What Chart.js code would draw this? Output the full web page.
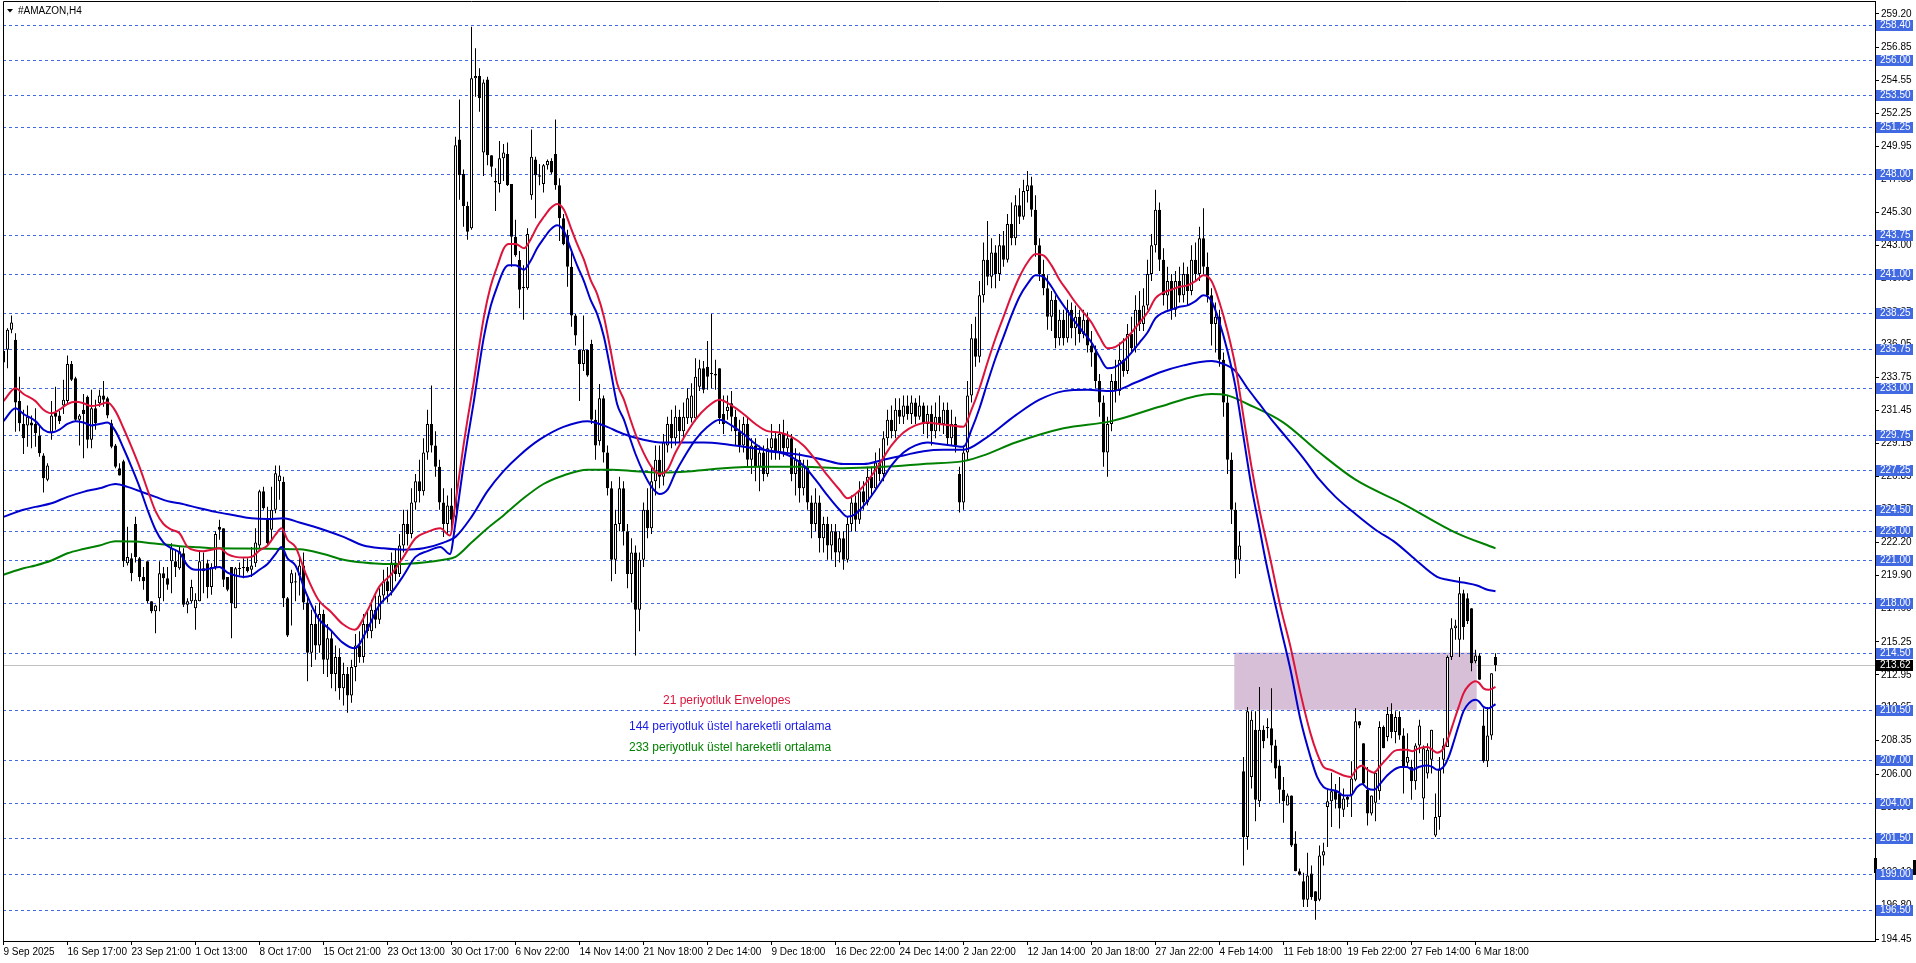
<!DOCTYPE html>
<html><head><meta charset="utf-8">
<script src="https://cdn.jsdelivr.net/npm/chart.js@4.4.1/dist/chart.umd.min.js"></script>
<style>html,body{margin:0;padding:0;background:#fff;overflow:hidden}canvas{display:block}</style>
</head><body>
<canvas id="c" width="1916" height="963"></canvas>
<script>
// ---------- DATA ----------
const chartTitle = '#AMAZON,H4';
// candles: [open, high, low, close], one per H4 bar
const candles = [
[234.8,236.4,234.5,235.6],[235.7,237.2,234.4,237.1],[237.1,238.1,236.85,237.6],[236.4,236.85,229.96,232.0],[232.1,233.8,230.0,230.55],
[230.5,231.5,228.4,229.5],[230.4,231.8,228.9,231.0],[230.6,231.1,228.8,230.4],[230.5,231.6,228.9,229.85],[229.7,230.4,228.2,228.45],
[228.3,228.45,225.7,226.7],[226.6,227.75,226.5,227.6],[229.9,232.1,229.4,231.1],[231.3,233.1,230.1,231.0],[231.1,231.4,230.5,230.7],
[231.8,233.6,231.2,232.2],[232.1,235.3,231.9,234.7],[234.7,234.9,233.5,233.6],[233.7,233.8,230.7,230.8],[230.8,231.2,229.0,231.1],
[231.5,232.6,228.1,231.2],[232.4,232.5,228.8,229.4],[229.4,232.9,228.8,231.6],[231.6,232.2,230.1,230.55],[231.95,232.9,231.7,232.5],
[232.5,233.5,231.7,232.2],[232.3,232.4,230.9,231.1],[230.55,230.8,228.8,228.9],[229.0,229.1,227.4,227.5],[227.4,227.75,226.9,226.9],
[227.9,228.0,220.5,220.9],[220.75,223.3,220.6,221.2],[221.1,221.45,219.5,220.05],[223.5,224.0,220.8,221.2],[221.1,221.2,219.5,219.8],
[219.8,220.5,218.9,219.5],[220.9,220.9,217.95,218.1],[218.1,218.1,217.25,217.4],[217.4,217.85,215.85,217.8],[218.3,220.9,217.4,220.05],
[220.05,220.5,218.1,219.7],[219.7,220.5,218.9,219.25],[220.9,222.15,218.65,221.8],[220.9,221.7,219.8,220.5],[220.4,221.9,220.3,221.6],
[221.45,221.8,217.7,217.85],[217.85,218.3,217.25,218.1],[218.1,219.6,217.95,219.1],[217.6,218.65,216.1,218.2],[218.1,221.6,218.1,220.9],
[220.4,221.5,218.65,220.2],[220.75,221.0,218.3,219.1],[219.1,220.75,218.55,220.5],[220.5,223.0,220.3,222.8],[223.3,223.8,222.4,223.1],
[223.2,223.2,219.1,219.6],[219.8,219.8,218.8,218.9],[220.5,220.5,215.5,217.95],[217.6,220.5,217.6,220.4],[220.4,220.8,219.9,220.35],
[220.4,221.1,219.7,220.5],[220.5,221.1,220.1,220.2],[220.3,221.9,219.8,220.6],[220.75,223.2,220.5,222.2],[222.0,225.9,221.8,225.8],
[225.8,226.1,224.5,224.6],[223.8,224.7,222.0,222.15],[223.1,226.1,222.4,224.5],[224.5,227.6,224.25,227.05],[226.5,227.6,225.2,226.9],
[226.45,226.8,217.7,218.3],[218.3,218.4,215.6,215.7],[219.35,220.3,216.4,220.05],[219.4,220.1,218.1,219.5],[219.9,221.2,218.5,220.6],
[220.6,221.5,217.5,218.0],[218.0,218.5,212.5,214.5],[214.5,217.5,213.5,216.5],[216.5,217.8,214.0,215.0],[215.0,218.0,214.5,217.2],
[217.2,217.5,213.0,214.0],[214.0,216.5,212.8,215.5],[215.5,216.0,212.0,213.0],[213.0,215.0,211.8,214.2],[214.2,214.8,211.2,212.0],
[212.0,213.8,210.8,213.0],[213.0,213.5,210.3,211.5],[211.5,214.0,211.0,213.5],[213.5,215.8,212.5,215.0],[215.0,216.0,213.8,214.2],
[214.2,217.2,213.8,216.5],[216.5,217.5,215.5,216.0],[216.0,218.2,215.5,217.5],[217.5,218.5,216.2,216.8],[216.8,219.0,216.5,218.5],
[218.5,220.3,218.0,219.5],[219.5,220.5,218.0,218.8],[218.8,221.5,218.5,220.8],[220.8,221.8,219.5,220.0],[220.0,222.8,219.8,222.0],
[222.0,224.5,221.5,223.5],[223.5,224.5,222.0,222.8],[222.8,226.0,222.5,225.0],[225.0,227.0,224.5,226.5],[226.5,228.0,225.0,225.8],
[225.8,229.5,225.5,228.5],[228.5,231.5,228.0,230.5],[230.5,233.2,228.5,229.0],[229.0,230.0,226.8,227.5],[227.5,228.0,224.5,225.0],
[225.0,226.0,222.6,223.5],[223.5,225.5,222.8,224.8],[224.8,226.0,223.0,223.8],[224.0,250.6,223.8,250.0],[250.4,253.2,246.2,247.9],
[248.0,248.3,244.3,245.75],[245.75,246.05,243.4,243.96],[244.2,258.3,244.1,254.7],[254.7,256.8,253.4,254.85],[254.85,255.4,252.35,253.3],
[249.5,254.6,247.85,254.4],[254.6,254.8,248.6,249.3],[249.3,249.3,247.8,248.5],[247.5,248.4,245.4,247.4],[247.3,250.3,246.7,249.1],
[249.1,250.1,247.5,249.5],[249.4,250.2,247.15,247.2],[247.3,247.3,241.5,243.6],[243.6,244.8,242.2,242.3],[241.97,242.6,238.6,239.9],
[240.1,241.6,237.8,240.0],[240.0,244.2,239.9,243.8],[246.5,251.1,246.2,249.2],[249.0,249.2,244.9,247.9],[247.9,248.7,247.2,247.8],
[247.3,248.7,246.7,248.6],[248.6,249.0,248.3,248.9],[248.9,249.1,248.0,248.1],[249.4,251.8,246.9,247.2],[247.2,247.7,243.3,244.9],
[244.9,245.2,243.0,243.07],[243.7,244.1,240.1,241.5],[241.5,242.6,237.3,238.1],[238.1,238.2,236.0,236.7],[235.7,235.7,232.1,234.7],
[234.7,238.1,234.2,235.7],[235.7,235.7,233.8,233.9],[236.1,236.4,230.5,230.8],[230.8,231.5,228.0,229.0],[229.3,233.3,229.0,232.3],
[232.3,232.5,227.8,228.5],[228.5,229.0,225.5,226.0],[226.0,226.5,219.5,221.0],[221.0,224.5,220.0,223.5],[223.5,226.8,223.0,226.0],
[226.0,226.5,222.0,223.0],[223.0,223.5,219.0,220.0],[220.0,222.5,218.0,221.5],[221.5,222.0,214.3,217.5],[217.5,221.5,216.0,221.0],
[221.0,225.0,220.5,224.5],[224.5,226.0,222.5,223.2],[223.2,227.5,222.8,226.5],[226.5,229.0,225.5,228.0],[228.0,229.0,226.0,226.8],
[226.8,229.8,226.2,229.2],[229.0,231.0,228.5,230.5],[230.5,231.5,228.8,229.5],[229.5,231.8,229.0,231.0],[231.0,231.5,229.2,230.0],
[230.0,232.0,229.5,231.0],[230.9,233.0,230.5,232.3],[230.9,233.35,230.6,232.5],[230.9,235.1,230.7,233.8],[233.1,235.0,232.8,234.4],
[234.4,234.9,232.65,232.9],[234.5,236.3,232.9,233.8],[234.0,238.2,233.0,234.05],[234.0,235.0,232.9,233.9],[234.4,234.4,230.5,230.9],
[231.2,232.5,229.8,230.5],[231.4,232.5,230.8,231.7],[231.95,232.8,230.0,231.0],[231.0,231.5,229.0,230.0],[230.0,230.8,228.5,229.0],
[229.0,231.0,228.5,230.5],[230.5,231.0,227.5,228.0],[228.0,229.5,227.0,229.0],[229.0,229.5,226.5,227.5],[227.5,229.0,225.8,228.5],
[228.5,229.0,226.5,227.0],[227.0,229.5,226.8,228.8],[228.8,230.5,228.0,229.5],[229.5,230.0,228.0,228.5],[228.5,230.5,228.0,229.8],
[229.8,230.8,228.2,228.8],[228.8,230.0,228.5,229.5],[229.5,229.8,226.5,227.0],[227.0,228.8,225.5,228.0],[228.0,228.5,225.0,226.0],
[226.0,228.0,225.5,227.5],[227.5,228.0,224.5,225.0],[225.0,225.5,222.5,223.5],[223.5,226.0,223.0,225.0],[225.0,225.5,221.5,222.5],
[222.5,224.0,221.5,223.5],[223.5,224.0,221.0,222.0],[222.0,223.5,221.0,223.0],[223.0,223.5,220.5,221.5],[221.5,223.0,220.8,222.5],
[222.5,223.0,220.3,221.0],[221.0,224.0,220.8,223.5],[223.5,225.5,223.0,225.0],[225.0,225.5,223.0,223.8],[223.8,226.5,223.5,225.8],
[225.8,226.5,224.5,225.0],[225.0,227.5,224.8,226.8],[226.8,227.5,225.5,226.0],[226.0,228.5,225.8,227.8],[227.8,228.8,226.5,227.0],
[227.0,230.0,226.5,229.5],[229.5,231.5,229.0,230.8],[230.8,231.8,229.5,230.0],[230.0,232.3,229.5,231.5],[231.5,232.3,230.5,231.0],
[231.0,232.5,230.5,231.8],[231.8,232.5,230.8,231.2],[231.2,232.5,230.5,232.0],[232.0,232.3,230.5,231.0],[231.0,232.5,230.8,231.8],
[231.8,232.0,229.8,230.5],[230.5,231.8,229.5,231.2],[231.2,231.8,229.0,230.0],[230.0,232.0,229.5,231.0],[231.0,232.5,230.0,230.5],
[230.5,232.0,229.8,231.5],[231.5,232.0,229.0,229.5],[229.5,231.5,229.0,230.5],[230.5,231.0,228.5,229.0],[227.0,227.5,224.3,225.0],
[225.0,229.0,224.5,228.5],[228.5,233.5,228.0,232.5],[232.5,237.5,232.0,236.5],[236.5,238.0,234.5,235.2],[235.2,240.5,234.8,239.5],
[239.5,243.2,239.0,242.0],[242.0,244.7,240.2,240.8],[240.8,243.5,240.0,242.5],[242.5,243.0,240.0,241.0],[241.0,243.8,240.5,243.0],
[243.0,244.0,241.5,242.0],[242.0,245.2,241.8,244.5],[244.5,246.0,243.0,243.5],[243.5,246.5,243.0,245.8],[245.8,247.0,244.5,245.0],
[245.0,247.6,244.8,246.8],[246.8,248.2,246.0,247.2],[247.2,247.8,245.0,245.5],[245.5,246.5,242.2,243.0],[243.0,243.5,240.5,241.0],
[241.0,242.0,239.5,240.0],[240.0,240.9,237.1,238.0],[238.0,239.8,237.0,239.2],[239.2,239.5,235.8,236.5],[236.5,238.5,236.0,237.8],
[237.8,238.5,236.0,236.5],[236.5,239.2,236.2,238.5],[238.5,239.0,236.5,237.2],[237.2,238.8,236.0,238.0],[238.0,238.5,236.2,236.8],
[236.8,238.5,236.5,237.8],[237.8,238.3,235.5,236.0],[236.0,237.0,234.5,235.5],[235.5,236.0,233.0,233.5],[233.5,234.0,231.0,232.0],
[232.0,232.5,227.5,228.5],[228.5,231.0,226.8,230.5],[230.5,234.0,230.0,233.5],[233.5,235.0,232.0,232.8],[232.8,236.2,232.5,235.0],
[235.0,236.5,233.8,234.2],[234.2,237.5,234.0,236.8],[236.8,238.0,235.5,235.8],[235.8,239.5,235.5,238.5],[238.5,239.8,237.0,237.5],
[237.5,240.0,237.0,238.8],[238.8,242.0,238.5,241.0],[241.0,243.8,240.5,243.0],[243.0,246.9,242.5,245.5],[245.5,246.0,241.2,242.0],
[242.0,242.8,238.8,239.5],[239.5,241.5,238.5,240.5],[240.5,241.0,237.8,238.5],[238.5,241.2,238.0,240.5],[240.5,241.5,239.0,239.5],
[239.5,241.8,239.0,241.0],[241.0,241.5,238.8,239.8],[239.8,243.0,239.5,242.0],[242.0,243.2,240.5,241.0],[241.0,244.3,240.5,243.5],
[243.5,245.6,241.0,241.5],[241.5,242.5,239.0,239.5],[239.5,240.0,236.0,237.5],[237.5,239.0,235.5,238.0],[238.0,238.5,234.5,235.0],
[235.0,235.5,231.0,232.0],[232.0,232.5,227.0,228.0],[228.0,228.5,223.5,224.5],[224.5,225.0,219.7,221.0],[221.0,223.0,220.0,222.0],
[206.2,207.2,199.6,201.6],[201.6,210.7,200.7,210.4],[205.8,210.4,205.0,209.8],[209.1,210.4,202.7,204.2],[204.1,212.1,203.7,209.1],
[209.1,209.4,207.8,208.3],[209.3,209.9,208.5,209.2],[209.2,212.0,206.8,208.0],[208.0,208.4,205.7,206.4],[206.6,207.0,203.95,204.9],
[204.9,205.8,202.6,204.1],[203.8,204.65,203.8,204.5],[204.5,204.5,200.9,201.0],[201.15,202.0,199.2,199.2],[199.2,199.4,198.9,198.95],
[198.5,199.1,196.7,197.2],[197.2,200.5,196.7,198.9],[199.05,199.6,197.2,197.4],[197.8,197.8,195.8,197.1],[197.2,201.0,197.1,200.3],
[200.3,201.2,199.6,200.6],[203.7,204.9,200.9,204.1],[204.1,206.1,202.3,204.8],[204.9,205.3,203.6,204.2],[204.65,205.8,202.2,203.6],
[203.5,205.0,203.0,204.3],[204.4,204.5,203.7,204.2],[204.5,206.9,203.0,205.7],[205.6,210.6,205.5,209.7],[209.7,209.7,209.2,209.4],
[208.15,208.15,205.2,205.35],[204.9,206.5,202.4,203.25],[203.25,204.5,203.1,204.5],[204.0,206.1,202.7,206.1],[204.8,209.7,204.2,209.3],
[209.3,209.4,207.8,207.8],[208.6,210.7,208.3,210.2],[210.2,210.95,208.5,208.95],[208.95,210.4,208.15,210.0],[210.0,210.4,208.4,208.7],
[208.7,209.2,204.65,206.5],[206.8,208.85,206.5,207.2],[206.5,207.0,204.2,205.5],[205.5,208.15,204.9,208.0],[208.0,209.8,207.45,209.4],
[204.3,208.0,202.8,207.8],[206.05,208.15,205.7,207.7],[207.0,209.1,206.05,209.1],[201.7,204.65,201.6,203.0],[203.0,207.2,202.1,206.3],
[207.0,208.5,206.05,208.0],[207.9,214.3,207.9,214.2],[214.2,216.9,213.98,216.2],[216.2,216.8,215.4,216.4],[215.4,219.8,214.2,218.65],
[218.65,218.9,215.4,216.3],[218.3,218.65,216.5,216.7],[217.6,217.6,213.2,213.75],[213.9,214.7,213.75,214.3],[214.3,214.45,212.6,212.6],
[209.4,210.6,206.8,206.9],[206.9,210.7,206.5,208.7],[208.7,213.05,208.4,213.05],[214.2,214.45,213.2,213.62]
];
const timeLabels = ['9 Sep 2025','16 Sep 17:00','23 Sep 21:00','1 Oct 13:00','8 Oct 17:00','15 Oct 21:00','23 Oct 13:00','30 Oct 17:00','6 Nov 22:00','14 Nov 14:00','21 Nov 18:00','2 Dec 14:00','9 Dec 18:00','16 Dec 22:00','24 Dec 14:00','2 Jan 22:00','12 Jan 14:00','20 Jan 18:00','27 Jan 22:00','4 Feb 14:00','11 Feb 18:00','19 Feb 22:00','27 Feb 14:00','6 Mar 18:00'];
const timeIdx = [0,16,32,48,64,80,96,112,128,144,160,176,192,208,224,240,256,272,288,304,320,336,352,368];
const priceTicks = [259.20,256.85,254.55,252.25,249.95,247.65,245.30,243.00,240.70,238.35,236.05,233.75,231.45,229.15,226.85,224.55,222.20,219.90,217.60,215.25,212.95,210.65,208.35,206.00,203.70,201.40,199.10,196.80,194.45];
const levels = [258.40,256.00,253.50,251.25,248.00,243.75,241.00,238.25,235.75,233.00,229.75,227.25,224.50,223.00,221.00,218.00,214.50,210.50,207.00,204.00,201.50,199.00,196.50];
const lastPrice = 213.62;
const markerPrices = [199.06, 200.15];
const zoneBars = [307.7, 368.3];
const zonePrices = [214.5, 210.5];
const envUpper = [[0,232.1],[3,233.0],[5,232.6],[8,232.1],[10,231.5],[12,231.25],[14,231.5],[16,231.9],[18,232.05],[20,231.95],[22,231.75],[24,231.85],[26,232.0],[28,231.4],[30,230.2],[32,228.9],[34,227.5],[36,225.9],[38,224.4],[40,223.5],[42,223.1],[44,222.85],[46,221.9],[48,221.65],[50,221.6],[52,221.7],[54,221.8],[56,221.4],[58,221.2],[60,221.15],[62,221.2],[64,221.65],[66,222.0],[68,222.75],[69.5,223.2],[71,222.4],[73,221.9],[75.6,220.0],[78.7,218.2],[81.7,217.4],[84.8,216.5],[87.8,216.1],[90.9,217.4],[93.9,219.1],[97,220.0],[100,221.2],[103,222.5],[106,222.95],[109.2,223.2],[111.6,222.7],[113,225.0],[114,227.0],[115,229.0],[116,230.8],[117.6,233.5],[118.4,235.0],[120.1,238.0],[121.75,240.1],[123.4,241.5],[125.1,242.8],[126.3,243.1],[128,243.1],[130.1,242.8],[131.75,243.4],[133.4,244.3],[135.1,245.0],[136.75,245.6],[138.4,245.9],[140.1,245.5],[141.75,244.3],[143.4,243.1],[145.1,242.0],[146.75,240.6],[148.4,239.6],[150.1,238.0],[151.75,235.7],[153.4,233.35],[155.1,232.2],[156.75,230.8],[158,229.8],[160,228.5],[162,227.5],[164,227.0],[166,227.3],[168,228.5],[170,229.5],[173,230.8],[176,231.7],[179,232.2],[182,231.8],[185,231.2],[188,230.5],[191,230.0],[194,229.9],[197,229.6],[200,229.0],[203,228.0],[206,226.9],[209,225.9],[211,225.3],[213,225.6],[216,226.5],[219,227.7],[222,229.0],[225,229.9],[228,230.4],[231,230.6],[234,230.5],[237,230.4],[240,230.3],[242,231.5],[244,233.0],[246,234.8],[248,236.5],[250,238.0],[252,239.5],[254,240.8],[256,241.8],[258,242.4],[260,242.3],[262,241.6],[264,240.6],[266,239.8],[268,239.0],[270,238.3],[272,237.6],[274,236.6],[276,235.8],[278,235.9],[280,236.3],[282,236.9],[284,237.6],[286,238.3],[288,239.3],[290,239.7],[292,239.9],[294,240.1],[296,240.2],[298,240.5],[300,240.9],[302,240.5],[304,239.0],[306,237.0],[308,234.5],[310,231.0],[312,227.5],[314,224.5],[316.75,221.0],[319.25,217.7],[321.75,214.9],[324.25,211.65],[326.75,208.85],[328.4,207.45],[330,206.5],[331.75,206.3],[333.4,206.1],[335,205.9],[336.75,205.8],[338.4,206.4],[339.7,206.6],[341,206.3],[342.6,206.1],[344.25,206.6],[345.9,207.1],[347.6,207.6],[349.25,207.7],[350.9,207.7],[352.2,207.6],[353.8,207.8],[356,207.9],[357.2,207.7],[358.4,207.5],[360,207.8],[361.3,208.6],[362.6,209.7],[363.8,210.7],[365,211.65],[366.3,212.2],[368,212.5],[368.8,212.4],[370,212.0],[371.3,211.9],[373,212.1]];
const envLower = [[0,230.7],[3,231.6],[5,231.2],[8,230.7],[10,230.1],[12,229.9],[14,230.1],[16,230.5],[18,230.7],[20,230.6],[22,230.4],[24,230.5],[26,230.6],[28,230.0],[30,228.8],[32,227.5],[34,226.1],[36,224.5],[38,223.1],[40,222.2],[42,221.8],[44,221.5],[46,220.6],[48,220.3],[50,220.3],[52,220.4],[54,220.5],[56,220.1],[58,219.9],[60,219.8],[62,219.9],[64,220.3],[66,220.7],[68,221.4],[69.5,221.9],[71,221.1],[73,220.6],[75.6,218.7],[78.7,216.9],[81.7,216.1],[84.8,215.2],[87.8,214.8],[90.9,216.1],[93.9,217.8],[97,218.7],[100,219.9],[103,221.2],[106,221.6],[109.2,221.9],[111.6,221.4],[113,223.6],[114,225.6],[115,227.6],[116,229.4],[117.6,232.1],[118.4,233.6],[120.1,236.6],[121.75,238.7],[123.4,240.1],[125.1,241.3],[126.3,241.6],[128,241.6],[130.1,241.3],[131.75,241.9],[133.4,242.8],[135.1,243.5],[136.75,244.1],[138.4,244.4],[140.1,244.0],[141.75,242.8],[143.4,241.6],[145.1,240.5],[146.75,239.2],[148.4,238.2],[150.1,236.6],[151.75,234.3],[153.4,231.9],[155.1,230.8],[156.75,229.4],[158,228.4],[160,227.1],[162,226.1],[164,225.6],[166,225.9],[168,227.1],[170,228.1],[173,229.4],[176,230.3],[179,230.8],[182,230.4],[185,229.8],[188,229.1],[191,228.6],[194,228.5],[197,228.2],[200,227.6],[203,226.6],[206,225.5],[209,224.5],[211,224.0],[213,224.2],[216,225.1],[219,226.3],[222,227.6],[225,228.5],[228,229.0],[231,229.2],[234,229.1],[237,229.0],[240,228.9],[242,230.1],[244,231.6],[246,233.4],[248,235.1],[250,236.6],[252,238.1],[254,239.4],[256,240.3],[258,240.9],[260,240.8],[262,240.1],[264,239.2],[266,238.4],[268,237.6],[270,236.9],[272,236.2],[274,235.2],[276,234.4],[278,234.5],[280,234.9],[282,235.5],[284,236.2],[286,236.9],[288,237.9],[290,238.3],[292,238.5],[294,238.7],[296,238.8],[298,239.1],[300,239.5],[302,239.1],[304,237.6],[306,235.6],[308,233.1],[310,229.6],[312,226.1],[314,223.2],[315.5,221.0],[319.25,216.3],[321.75,213.3],[324.25,209.8],[326.75,207.2],[328.4,205.8],[330,205.1],[331.75,204.9],[333.4,204.8],[335,204.5],[336.75,204.5],[338.4,205.1],[339.7,205.3],[341,205.0],[342.6,204.9],[344.25,205.35],[345.9,205.9],[347.6,206.3],[349.25,206.5],[350.9,206.5],[352.2,206.3],[353.8,206.5],[356,206.6],[357.2,206.5],[358.4,206.3],[360,206.5],[361.3,207.2],[362.6,208.3],[363.8,209.4],[365,210.4],[366.3,210.95],[368,211.2],[368.8,211.1],[370,210.7],[371.3,210.6],[373,210.9]];
const ema144 = [[0,224.0],[5,224.5],[8,224.7],[12,224.95],[16,225.4],[20,225.75],[24,226.0],[28,226.3],[31,226.1],[34,225.8],[38,225.4],[41,225.1],[44,224.95],[49,224.6],[53,224.35],[58,224.1],[62,223.9],[66,223.85],[70,223.9],[74,223.6],[80,223.1],[85,222.6],[90,222.0],[95,221.8],[100,221.7],[105,221.8],[110,222.2],[113,222.6],[117,224.0],[121,225.8],[125,227.2],[129,228.3],[134,229.4],[140,230.3],[146,230.7],[150,230.4],[155,229.8],[160,229.4],[165,229.2],[170,229.2],[175,229.2],[180,229.1],[185,228.9],[190,228.7],[195,228.5],[200,228.3],[205,228.0],[210,227.7],[215,227.7],[220,228.0],[225,228.3],[230,228.6],[235,228.7],[240,228.7],[245,229.4],[253,231.1],[259,232.2],[265,232.8],[271,232.9],[277,232.8],[283,233.4],[289,234.1],[295,234.6],[302,234.9],[305,234.7],[308,234.2],[311,233.0],[314,231.9],[317,230.8],[320,229.8],[325,228.1],[329,226.6],[333,225.4],[338,224.2],[343,223.1],[348,222.2],[353,221.0],[358.4,219.8],[361,219.6],[365,219.4],[368.4,219.2],[371,218.9],[373,218.8]];
const ema233 = [[0,219.95],[5,220.4],[8,220.6],[12,220.95],[16,221.45],[20,221.75],[24,222.0],[28,222.3],[33,222.27],[37,222.15],[41,222.05],[45,221.92],[49,221.87],[53,221.8],[74,221.73],[80,221.4],[85,221.0],[90,220.8],[95,220.7],[100,220.7],[105,220.8],[110,221.0],[113,221.2],[117,222.2],[121,223.2],[125,224.1],[130,225.3],[135,226.3],[140,226.9],[146,227.3],[152,227.3],[158,227.2],[165,227.1],[172,227.2],[180,227.4],[190,227.5],[200,227.5],[210,227.4],[220,227.5],[230,227.7],[240,227.9],[245,228.3],[253,229.2],[265,230.2],[277,230.7],[289,231.7],[302,232.6],[306,232.5],[311,231.9],[320,230.6],[329,228.5],[338,226.6],[350,224.9],[363,222.9],[373,221.8]];
const legendTexts = ['21 periyotluk Envelopes','144 periyotluk üstel hareketli ortalama','233 periyotluk üstel hareketli ortalama'];

// ---------- STYLE ----------
const FONT = "'Liberation Sans', Arial, sans-serif";
const C_RED = '#dc143c', C_BLUE = '#0000cd', C_GREEN = '#008000', C_LEVEL = '#4169e1';

const bodyData = candles.map((c, i) => ({x: i, y: [c[0], c[3]]}));
const wickData = candles.map((c, i) => ({x: i, y: [c[2], c[1]]}));
const bodyFill = candles.map(c => c[3] >= c[0] ? '#ffffff' : '#000000');
const toXY = arr => arr.map(p => ({x: p[0], y: p[1]}));
const lineDs = (data, color, ord) => ({type: 'line', data: toXY(data), borderColor: color, borderWidth: 2, pointRadius: 0, cubicInterpolationMode: 'monotone', fill: false, order: ord});

const overlay = {
  id: 'overlay',
  beforeDatasetsDraw(chart) {
    const {ctx, chartArea: a, scales: {x, y}} = chart;
    ctx.save();
    ctx.beginPath(); ctx.rect(a.left, a.top, a.right - a.left, a.bottom - a.top); ctx.clip();
    const py = Math.round(y.getPixelForValue(lastPrice)) + 0.5;
    ctx.strokeStyle = '#c0c0c0'; ctx.lineWidth = 1;
    ctx.beginPath(); ctx.moveTo(a.left, py); ctx.lineTo(a.right, py); ctx.stroke();
    const zx0 = x.getPixelForValue(zoneBars[0]), zx1 = x.getPixelForValue(zoneBars[1]);
    const zy0 = y.getPixelForValue(zonePrices[0]), zy1 = y.getPixelForValue(zonePrices[1]);
    ctx.fillStyle = '#d8bfd8'; ctx.fillRect(zx0, zy0, zx1 - zx0, zy1 - zy0);
    ctx.strokeStyle = C_LEVEL; ctx.setLineDash([3, 3]);
    for (const v of levels) {
      const yy = Math.round(y.getPixelForValue(v)) + 0.5;
      ctx.beginPath(); ctx.moveTo(a.left, yy); ctx.lineTo(a.right, yy); ctx.stroke();
    }
    ctx.restore();
  },
  afterDraw(chart) {
    const {ctx, chartArea: a, scales: {y}} = chart;
    ctx.save();
    ctx.strokeStyle = '#000'; ctx.lineWidth = 1;
    ctx.beginPath(); ctx.moveTo(a.left + 0.5, a.bottom); ctx.lineTo(a.left + 0.5, a.top - 0.5); ctx.lineTo(a.right + 1, a.top - 0.5); ctx.stroke();
    // axis marker
    const m0 = Math.round(y.getPixelForValue(markerPrices[1])), m1 = Math.round(y.getPixelForValue(markerPrices[0]));
    ctx.fillStyle = '#000';
    ctx.fillRect(a.right - 1, m0, 3, m1 - m0);
    ctx.fillRect(chart.width - 3, m0 + 2, 3, m1 - m0);
    ctx.font = '10px ' + FONT; ctx.textBaseline = 'middle'; ctx.textAlign = 'left';
    const bx = a.right + 1;
    for (const v of levels) {
      const yy = Math.round(y.getPixelForValue(v));
      ctx.fillStyle = C_LEVEL; ctx.fillRect(bx, yy - 5, 37, 11);
      ctx.fillStyle = '#fff'; ctx.fillText(v.toFixed(2), bx + 4, yy + 0.5);
    }
    const ly = Math.round(y.getPixelForValue(lastPrice));
    ctx.fillStyle = '#000'; ctx.fillRect(bx, ly - 5, 37, 11);
    ctx.fillStyle = '#fff'; ctx.fillText(lastPrice.toFixed(2), bx + 4, ly + 0.5);
    // title
    ctx.fillStyle = '#000';
    ctx.beginPath(); ctx.moveTo(7, 9); ctx.lineTo(13, 9); ctx.lineTo(10, 12.5); ctx.closePath(); ctx.fill();
    ctx.font = '10px ' + FONT; ctx.fillText(chartTitle, 18, 11);
    // legend notes
    ctx.font = '12px ' + FONT;
    ctx.fillStyle = C_RED; ctx.fillText(legendTexts[0], 663, 701);
    ctx.fillStyle = '#1a1ae6'; ctx.fillText(legendTexts[1], 629, 727);
    ctx.fillStyle = C_GREEN; ctx.fillText(legendTexts[2], 629, 748);
    ctx.restore();
  }
};

new Chart(document.getElementById('c'), {
  type: 'bar',
  data: {datasets: [
    lineDs(envUpper, C_RED, 0),
    lineDs(envLower, C_BLUE, 1),
    lineDs(ema144, C_BLUE, 2),
    lineDs(ema233, C_GREEN, 3),
    {type: 'bar', data: bodyData, backgroundColor: bodyFill, borderColor: '#000', borderWidth: 1, borderSkipped: false, barThickness: 3, minBarLength: 1, inflateAmount: 0, grouped: false, order: 5},
    {type: 'bar', data: wickData, backgroundColor: '#000', borderWidth: 0, barThickness: 1, inflateAmount: 0, grouped: false, order: 6}
  ]},
  options: {
    responsive: false, animation: false, devicePixelRatio: 1, events: [],
    layout: {padding: {left: 3, top: 2, right: 0, bottom: 0}},
    plugins: {legend: {display: false}, tooltip: {enabled: false}},
    scales: {
      x: {
        type: 'linear', min: -0.125, max: 467.875, offset: false, bounds: 'data',
        grid: {display: true, drawOnChartArea: false, drawTicks: true, tickLength: 4, tickColor: '#000', offset: false},
        border: {display: true, color: '#000', width: 1},
        afterBuildTicks: s => { s.ticks = timeIdx.map(v => ({value: v})); },
        afterFit: s => { s.height = 22; s.paddingLeft = 0; s.paddingRight = 0; },
        ticks: {autoSkip: false, maxRotation: 0, minRotation: 0, align: 'start', padding: 1, color: '#000', font: {family: FONT, size: 10},
          callback: v => { const k = timeIdx.indexOf(v); return k >= 0 ? timeLabels[k] : ''; }}
      },
      y: {
        position: 'right', min: 194.32, max: 260.03, bounds: 'data',
        grid: {display: true, drawOnChartArea: false, drawTicks: true, tickLength: 4, tickColor: '#000'},
        border: {display: true, color: '#000', width: 1},
        afterBuildTicks: s => { s.ticks = priceTicks.map(v => ({value: v})); },
        afterFit: s => { s.width = 41; s.paddingTop = 0; s.paddingBottom = 0; },
        ticks: {autoSkip: false, padding: 2, color: '#000', font: {family: FONT, size: 10}, callback: v => v.toFixed(2)}
      }
    }
  },
  plugins: [overlay]
});
</script>
</body></html>
